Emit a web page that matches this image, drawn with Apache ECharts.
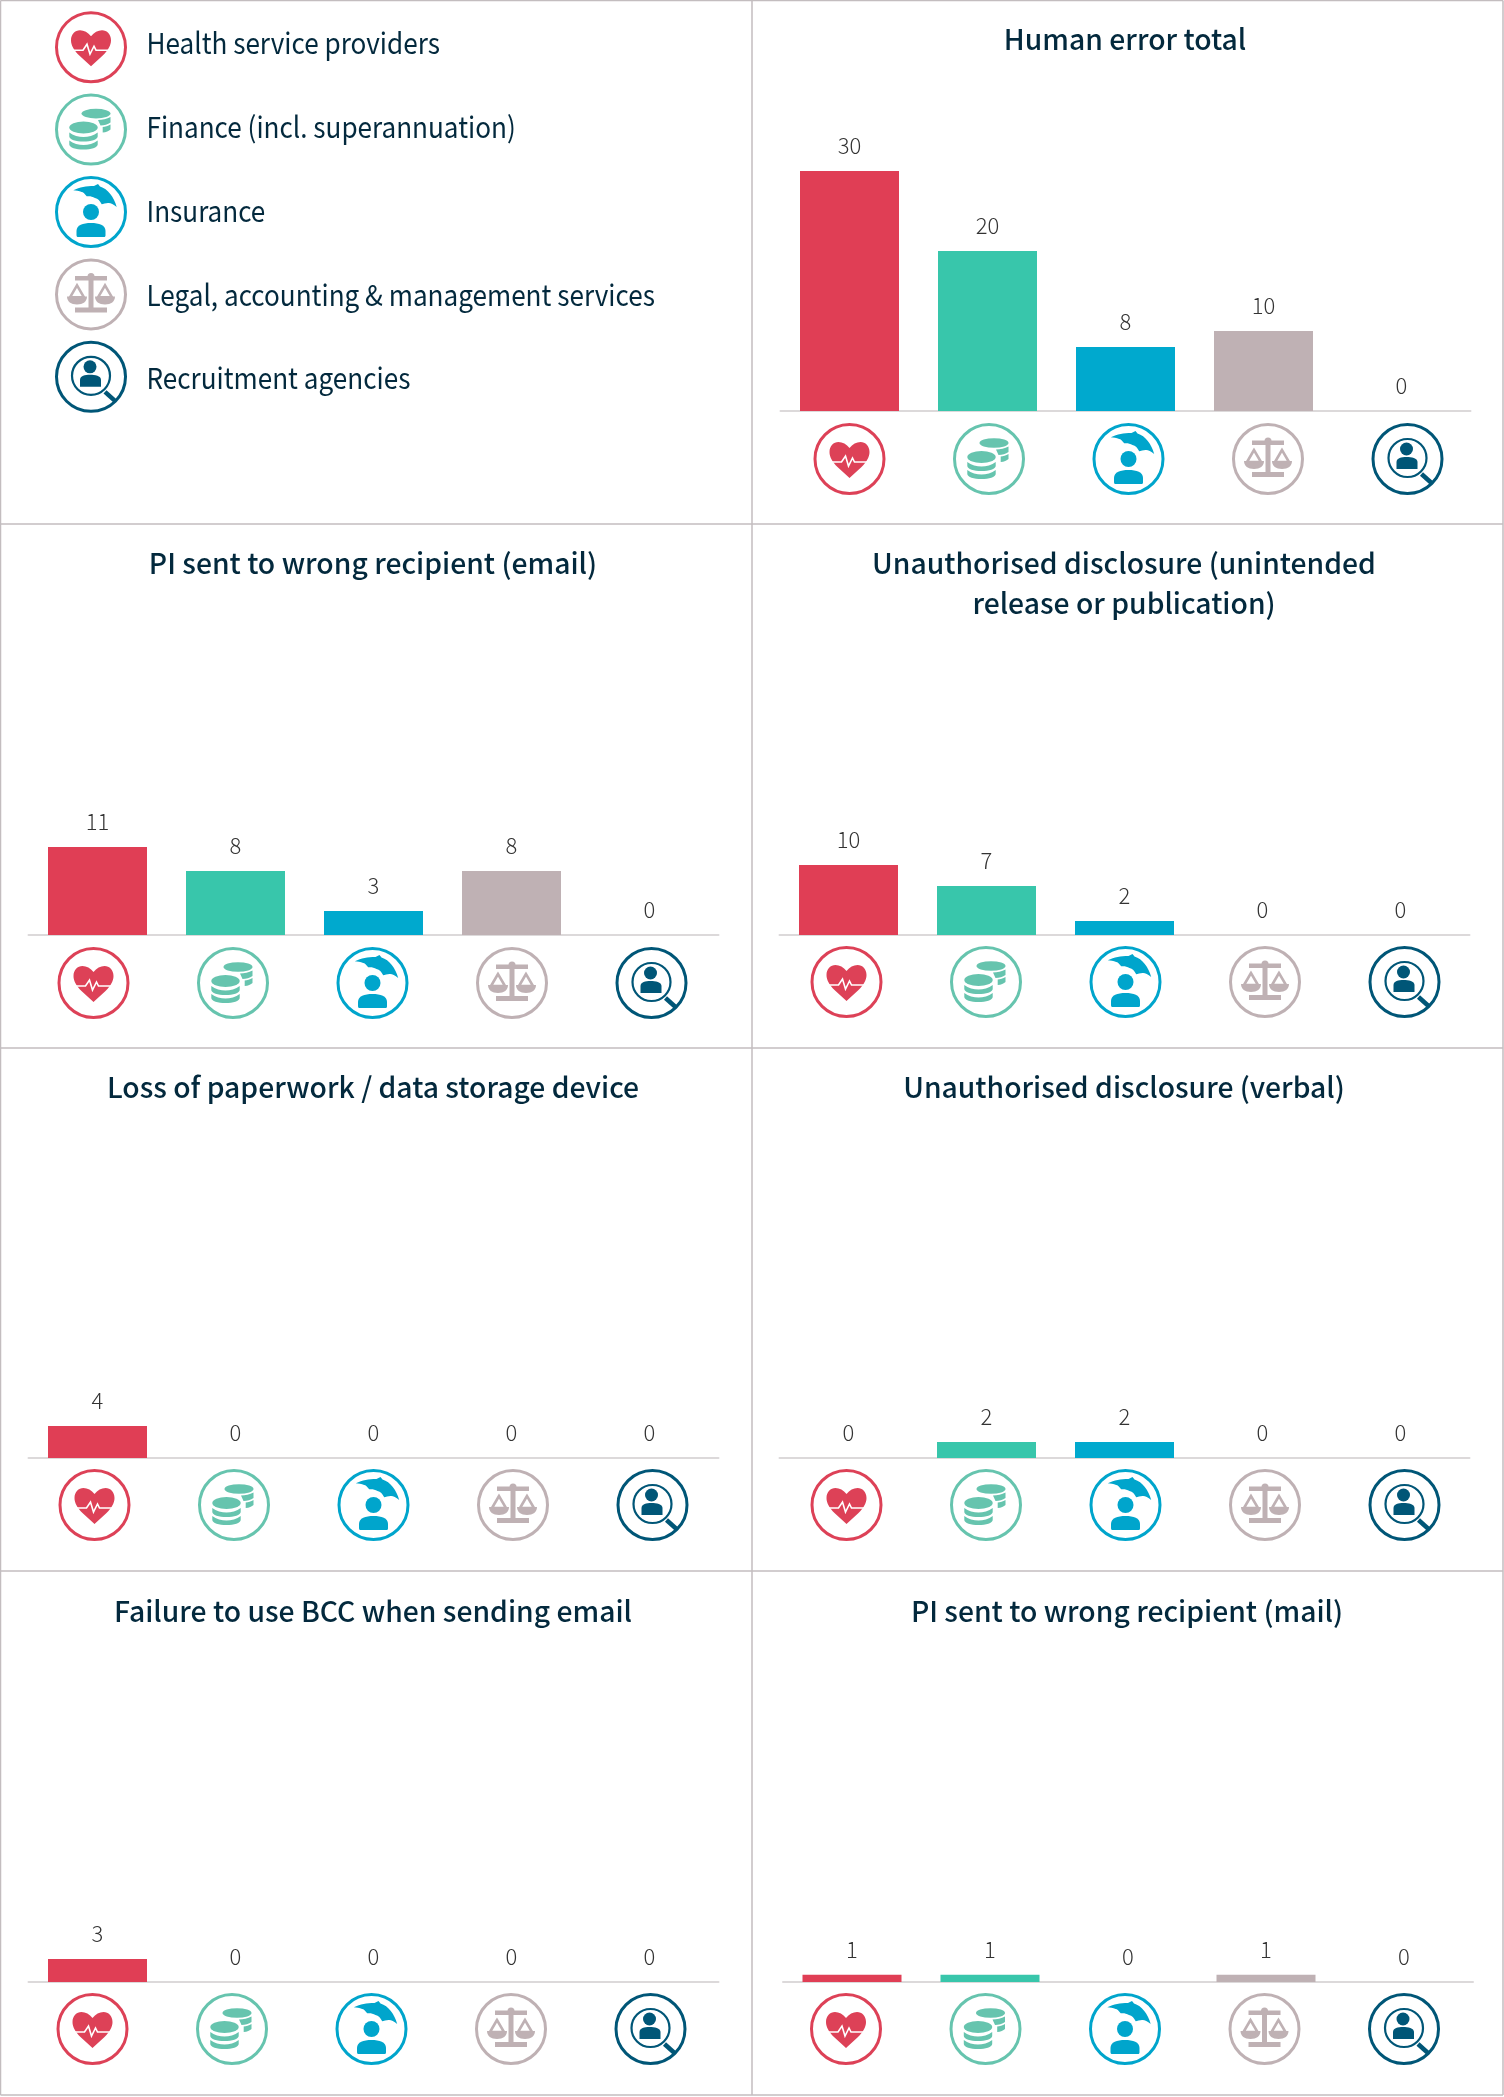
<!DOCTYPE html>
<html>
<head>
<meta charset="utf-8">
<title>Human error breaches by sector</title>
<style>
  html, body { margin: 0; padding: 0; background: #fff; }
  #main { width: 1504px; height: 2097px; }
</style>
<script src="https://cdn.jsdelivr.net/npm/echarts@6/dist/echarts.min.js"></script>
</head>
<body>
<div id="main"></div>
<script>
// categories and values
var categories = ['Health service providers', 'Finance (incl. superannuation)', 'Insurance', 'Legal, accounting & management services', 'Recruitment agencies'];
var humanErrorTotal = [30, 20, 8, 10, 0];
var wrongRecipientEmail = [11, 8, 3, 8, 0];
var unintendedRelease = [10, 7, 2, 0, 0];
var lossOfPaperwork = [4, 0, 0, 0, 0];
var verbalDisclosure = [0, 2, 2, 0, 0];
var failureToUseBcc = [3, 0, 0, 0, 0];
var wrongRecipientMail = [1, 1, 0, 1, 0];

var barColors = ['#E03E55', '#38C6AB', '#00A9CE', '#BFB1B4', '#fff'];
var iconColors = ['#DD4157', '#66C4AE', '#00A5CC', '#BFB1B4', '#005677'];
var FONT = '"Noto Sans CJK SC", "Noto Sans", sans-serif';
var TITLE_COLOR = '#03293D';

// one entry per small chart, unit = pixels per breach on that panel's axis
var panels = [
  { title: 'Human error total', values: humanErrorTotal, left: 780.5, base: 411, unit: 8, titleX: 1125, titleY: 19, iconShift: 0, iconDy: 48 },
  { title: 'PI sent to wrong recipient (email)', values: wrongRecipientEmail, left: 28.5, base: 935, unit: 8, titleX: 373, titleY: 543, iconShift: -4, iconDy: 48 },
  { title: 'Unauthorised disclosure (unintended\nrelease or publication)', values: unintendedRelease, left: 779.5, base: 935, unit: 7, titleX: 1124, titleY: 543, iconShift: -2, iconDy: 47 },
  { title: 'Loss of paperwork / data storage device', values: lossOfPaperwork, left: 28.5, base: 1458, unit: 8, titleX: 373, titleY: 1067, iconShift: -3, iconDy: 47 },
  { title: 'Unauthorised disclosure (verbal)', values: verbalDisclosure, left: 779.5, base: 1458, unit: 8, titleX: 1124, titleY: 1067, iconShift: -2, iconDy: 47 },
  { title: 'Failure to use BCC when sending email', values: failureToUseBcc, left: 28.5, base: 1982, unit: 7.67, titleX: 373, titleY: 1591, iconShift: -5, iconDy: 47 },
  { title: 'PI sent to wrong recipient (mail)', values: wrongRecipientMail, left: 783, base: 1982, unit: 7.33, titleX: 1127, titleY: 1591, iconShift: -6, iconDy: 47 }
];

// icon shapes, drawn around 0,0 inside a ring of radius 34
function iconParts(i) {
  var c = iconColors[i];
  var fill = function (d) { return { type: 'path', shape: { pathData: d }, style: { fill: c } }; };
  var line = function (d, w) { return { type: 'path', shape: { pathData: d }, style: { fill: null, stroke: c, lineWidth: w } }; };
  var parts = [{ type: 'circle', shape: { cx: 0, cy: 0, r: 34.5 }, style: { fill: '#fff', stroke: c, lineWidth: 3 } }];
  if (i === 0) {
    parts.push(fill('M0 -11C-3 -15 -7 -17 -11 -17C-16 -17 -20 -13 -20 -7C-20 -2 -17 3 -12 8L0 19L12 8C17 3 20 -2 20 -7C20 -13 16 -17 11 -17C7 -17 3 -15 0 -11Z'));
    parts.push({ type: 'path', shape: { pathData: 'M-22 3H-8L-4 -3L-1 7L3 -1L5 3H22' }, style: { fill: null, stroke: '#fff', lineWidth: 1.6 } });
  } else if (i === 1) {
    parts.push(fill('M-9.5 -16A14.5 4.8 0 1 0 19.5 -16A14.5 4.8 0 1 0 -9.5 -16Z'));
    parts.push(fill('M-21.7 -2A14.2 6 0 1 0 6.7 -2A14.2 6 0 1 0 -21.7 -2Z'));
    parts.push(fill('M-21.7 3C-18 6 -12 7.5 -7.5 7.5C-3 7.5 3 6 6.7 3V7C6.7 10 0 12 -7.5 12C-15 12 -21.7 10 -21.7 7Z'));
    parts.push(fill('M-21.7 11C-18 14 -12 15.5 -7.5 15.5C-3 15.5 3 14 6.7 11V15C6.7 18 0 20 -7.5 20C-15 20 -21.7 18 -21.7 15Z'));
    parts.push(fill('M7 -9.5C11 -9.5 16 -10.5 19.5 -12.5V-7C17 -5 13 -4 9.5 -4Z'));
    parts.push(fill('M11.7 -2.5C14 -2.5 17 -3.5 19.5 -5V0C18 1.5 15 3 11.7 3Z'));
  } else if (i === 2) {
    parts.push(fill('M-17.7 -21.7C-11 -25 -5 -26 3 -26L7 -28L9 -25.5C17 -23 23 -15 25.7 -5C22 -8 19 -9.5 17 -9C15 -9 12 -8 10.7 -7.7C9 -11 7 -13.5 4 -14C1 -16 -2 -16 -4.3 -15.7C-6 -18 -8 -20 -9.3 -20C-12 -21 -15 -21.5 -17.7 -21.7Z'));
    parts.push({ type: 'circle', shape: { cx: 0, cy: 0, r: 8 }, style: { fill: c } });
    parts.push(fill('M-14.5 23V19C-14.5 13 -8 11 0 11C8 11 14.5 13 14.5 19V23C14.5 24.5 14 25 13 25H-13C-14 25 -14.5 24.5 -14.5 23Z'));
  } else if (i === 3) {
    parts.push(fill('M-16 -18.5H16V-14H2.5V13H16V18H-16V13H-2.5V-14H-16Z'));
    parts.push({ type: 'circle', shape: { cx: 0, cy: -18, r: 3.5 }, style: { fill: c } });
    parts.push(line('M-14 -9L-21 3H-7Z', 2.6));
    parts.push(line('M14 -9L7 3H21Z', 2.6));
    parts.push(fill('M-24 2H-4C-4 7 -8 10 -14 10C-20 10 -24 7 -24 2Z'));
    parts.push(fill('M4 2H24C24 7 20 10 14 10C8 10 4 7 4 2Z'));
  } else {
    parts.push({ type: 'circle', shape: { cx: 0, cy: -1, r: 19 }, style: { fill: '#fff', stroke: c, lineWidth: 2.2 } });
    parts.push({ type: 'circle', shape: { cx: -1, cy: -10, r: 6.5 }, style: { fill: c } });
    parts.push(fill('M-11 10V3C-11 -1 -6 -2 -1 -2C4 -2 10 -1 10 3V10Z'));
    parts.push(line('M14 15L24 24', 4.5));
  }
  return parts;
}

var option = {
  animation: false,
  backgroundColor: '#fff',
  title: [],
  grid: [],
  xAxis: [],
  yAxis: [],
  series: [],
  // panel rules
  graphic: [
    [0.5, 0.5, 0.5, 2095], [752, 0.5, 752, 2095], [1503, 0.5, 1503, 2095],
    [0.5, 0.5, 1503, 0.5], [0.5, 524, 1503, 524], [0.5, 1048, 1503, 1048],
    [0.5, 1571, 1503, 1571], [0.5, 2095, 1503, 2095]
  ].map(function (p) {
    return { type: 'line', silent: true, shape: { x1: p[0], y1: p[1], x2: p[2], y2: p[3] }, style: { stroke: '#C3BDBF', lineWidth: 1.5 } };
  })
};

panels.forEach(function (p, n) {
  option.title.push({
    text: p.title,
    left: p.titleX,
    top: p.titleY,
    padding: 0,
    textAlign: 'center',
    textStyle: { fontFamily: FONT, fontSize: 28.3, fontWeight: 500, color: TITLE_COLOR, lineHeight: 40 }
  });
  option.grid.push({ left: p.left, top: p.base - 30 * p.unit, width: 690, height: 30 * p.unit });
  option.xAxis.push({
    type: 'category',
    gridIndex: n,
    data: categories,
    axisTick: { show: false },
    axisLabel: { show: false },
    axisLine: { lineStyle: { color: '#DCD9DA', width: 2 } }
  });
  option.yAxis.push({ type: 'value', gridIndex: n, min: 0, max: 30, show: false });
  option.series.push({
    type: 'bar',
    xAxisIndex: n,
    yAxisIndex: n,
    barWidth: 99,
    data: p.values.map(function (v, i) { return { value: v, itemStyle: { color: barColors[i] } }; }),
    label: { show: true, position: 'top', distance: 14.5, fontFamily: FONT, fontSize: 22, fontWeight: 300, color: '#333' }
  });
  option.series.push({
    type: 'custom',
    xAxisIndex: n,
    yAxisIndex: n,
    silent: true,
    data: categories.map(function (c, i) { return [i, 0]; }),
    renderItem: function (params, api) {
      var i = params.dataIndex;
      var pos = api.coord([api.value(0), 0]);
      return { type: 'group', x: pos[0] + p.iconShift + i * 1.5, y: pos[1] + p.iconDy, children: iconParts(i) };
    }
  });
});

// key panel, one row per category
var legendNudge = [-4, -3, -1, 1, 1];
var k = panels.length;
option.grid.push({ left: 91, top: 6, width: 600, height: 412 });
option.xAxis.push({ type: 'value', gridIndex: k, min: 0, max: 1, show: false });
option.yAxis.push({ type: 'category', gridIndex: k, inverse: true, data: categories, show: false });
option.series.push({
  type: 'custom',
  xAxisIndex: k,
  yAxisIndex: k,
  silent: true,
  data: categories.map(function (c, i) { return [0, i]; }),
  renderItem: function (params, api) {
    var i = params.dataIndex;
    var pos = api.coord([0, api.value(1)]);
    var kids = iconParts(i);
    kids.push({
      type: 'text',
      x: 55.5,
      y: legendNudge[i],
      scaleX: 0.9,
      style: { text: categories[i], fontFamily: FONT, fontSize: 29, fill: TITLE_COLOR, align: 'left', verticalAlign: 'middle' }
    });
    return { type: 'group', x: pos[0], y: pos[1], children: kids };
  }
});

var myChart = echarts.init(document.getElementById('main'));
myChart.setOption(option);
</script>
</body>
</html>
